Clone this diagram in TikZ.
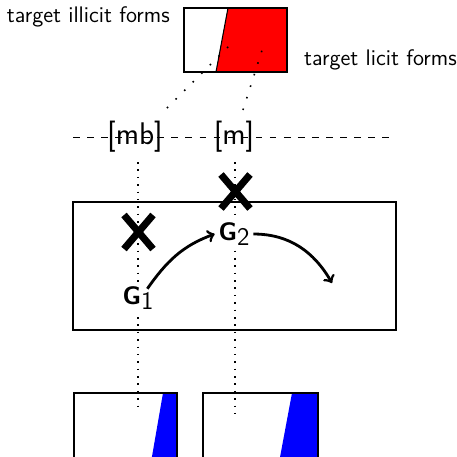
\documentclass[tikz,border=0pt]{standalone}
\usetikzlibrary{shapes.misc}
\renewcommand{\familydefault}{\sfdefault}
\definecolor{licit}{RGB}{255,0,0}
\definecolor{surface}{RGB}{0,0,255}

\begin{document}
\begin{tikzpicture}[
  form/.style={draw, line width=0.6pt, inner sep=0pt},
  lbl/.style={font=\fontsize{12.8}{15}\selectfont},
  seg/.style={font=\fontsize{17.8}{21}\selectfont, inner sep=0pt},
  gnode/.style={font=\Large, fill=white, inner sep=2pt},
  xmark/.style={cross out, draw, line width=4pt, minimum width=0.44cm, minimum height=0.54cm, inner sep=0pt},
  tie/.style={line width=0.9pt, dash pattern=on 0.9pt off 3.3pt},
  link/.style={line width=0.9pt, dash pattern=on 0.9pt off 6pt},
  tier/.style={line width=0.5pt, dash pattern=on 3.8pt off 4.2pt},
  arrow/.style={->, line width=1.6pt}
]
\useasboundingbox (0,0) rectangle (9.14,-9.14);

% target forms
\fill[licit] (4.56,-0.16) -- (5.74,-0.16) -- (5.74,-1.44) -- (4.32,-1.44) -- cycle;
\draw[line width=0.6pt] (4.56,-0.16) -- (4.32,-1.44);
\node[form, minimum width=2.06cm, minimum height=1.28cm] (target) at (4.71,-0.80) {};
\node[lbl, anchor=base east] (illicit) at (3.52,-0.45) {target illicit forms};
\node[lbl, anchor=base west] (licit) at (5.96,-1.30) {target licit forms};

% segment tier
\coordinate (tierL) at (1.46,-2.74);
\coordinate (tierR) at (7.92,-2.74);
\draw[tier] (tierL) -- (tierR);
\node[seg] (mb) at (2.70,-2.74) {[mb]};
\node[seg] (m) at (4.68,-2.74) {[m]};

\coordinate (mbfoot) at (3.34,-2.16);
\coordinate (mbhead) at (4.62,-0.88);
\coordinate (mfoot) at (4.86,-2.20);
\coordinate (mhead) at (5.28,-0.88);
\draw[link] (mbfoot) -- (mbhead);
\draw[link] (mfoot) -- (mhead);

% output forms
\fill[surface] (3.26,-7.86) -- (3.54,-7.86) -- (3.54,-9.36) -- (3.00,-9.36) -- cycle;
\fill[surface] (5.84,-7.86) -- (6.36,-7.86) -- (6.36,-9.36) -- (5.56,-9.36) -- cycle;
\node[form, minimum width=2.06cm, minimum height=1.5cm] (outL) at (2.51,-8.61) {};
\node[form, minimum width=2.30cm, minimum height=1.5cm] (outR) at (5.21,-8.61) {};

% grammar
\node[form, line width=1pt, minimum width=6.46cm, minimum height=2.56cm] (grammar) at (4.69,-5.32) {};

\coordinate (mbtop) at (2.76,-3.24);
\coordinate (mbbot) at (2.76,-8.24);
\coordinate (mtop) at (4.70,-3.24);
\coordinate (mbot) at (4.70,-8.26);
\draw[tie] (mbtop) -- (mbbot);
\draw[tie] (mtop) -- (mbot);

\node[xmark] (x1) at (2.77,-4.64) {};
\node[xmark] (x2) at (4.71,-3.83) {};

\node[gnode] (g1) at (2.76,-5.96) {\textbf{G}\raisebox{-2.8pt}{1}};
\node[gnode] (g2) at (4.68,-4.68) {\textbf{G}\raisebox{-2.8pt}{2}};
\coordinate (drift) at (6.64,-5.66);

\draw[arrow] ([shift={(-0.2,-0.12)}]g1.north east) to[out=55, in=200] (g2.west);
\draw[arrow] (g2.east) to[out=0, in=120] (drift);
\end{tikzpicture}
\end{document}
